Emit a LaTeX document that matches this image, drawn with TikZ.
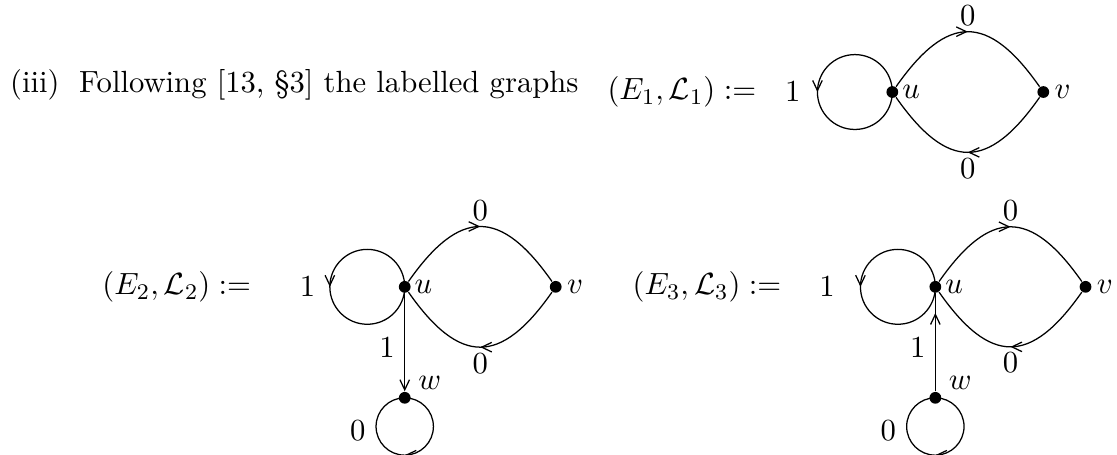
\documentclass[tikz,border=0pt]{standalone}
\usetikzlibrary{positioning, calc, arrows.meta, decorations.markings}

\begin{document}
\begin{tikzpicture}[
    >={Straight Barb[length=3.6pt, width=3.4pt]},
    font=\fontsize{10.95}{13.6}\selectfont,
    line width=0.45pt,
    vertex/.style={circle, fill, inner sep=0pt, minimum size=4.2pt},
    vlabel/.style={inner sep=0pt},
    elabel/.style={inner sep=2pt},
    midarrow/.style={postaction={decorate}, decoration={markings, mark=at position #1 with {\arrow{>}}}}
]

    \useasboundingbox (0,0) rectangle (14.02,-5.71);

    % Text
    \node [anchor=base west, inner sep=0pt] (intro) at (0.12,-1.16) {(iii)\hspace{7pt}Following [13, \S3] the labelled graphs};

    % Graph 1
    \node [anchor=east, inner sep=0pt] (e1) at (9.50,-1.155) {$(E_1,\mathcal{L}_1) :=$};
    \node [vertex] (u1) at (11.20,-1.155) {};
    \node [vertex, right of=u1, node distance=1.895cm] (v1) {};
    \node [vlabel, right=1pt of u1] (lu1) {$u$};
    \node [vlabel, right=1.5pt of v1] (lv1) {$v$};
    \node (l1) at (9.95,-1.155) {$1$};

    \draw [midarrow=0.5] (u1.center) arc [start angle=0, end angle=360, radius=0.47];
    \draw [midarrow=0.5] (u1) to [bend left=55, looseness=1.6] node [above, elabel] (a1) {$0$} (v1);
    \draw [midarrow=0.5] (v1) to [bend left=55, looseness=1.6] node [below, elabel] (b1) {$0$} (u1);

    % Graph 2
    \node [anchor=east, inner sep=0pt] (e2) at (3.16,-3.60) {$(E_2,\mathcal{L}_2) :=$};
    \node [vertex] (u2) at (5.08,-3.60) {};
    \node [vertex, right of=u2, node distance=1.895cm] (v2) {};
    \node [vertex, below of=u2, node distance=1.393cm] (w2) {};
    \node [vlabel, right=1pt of u2] (lu2) {$u$};
    \node [vlabel, right=1.5pt of v2] (lv2) {$v$};
    \node [vlabel, above right=1pt and 3pt of w2] (lw2) {$w$};
    \node (l2) at (3.86,-3.60) {$1$};
    \node (m2) at (4.49,-5.40) {$0$};

    \draw [midarrow=0.5] (u2.center) arc [start angle=0, end angle=360, radius=0.47];
    \draw [midarrow=0.5] (u2) to [bend left=55, looseness=1.6] node [above, elabel] (a2) {$0$} (v2);
    \draw [midarrow=0.5] (v2) to [bend left=55, looseness=1.6] node [below, elabel] (b2) {$0$} (u2);
    \draw [->] (u2) -- node [left, pos=0.55] (c2) {$1$} (w2);
    \draw [midarrow=0.5] (w2.center) arc [start angle=90, end angle=-270, radius=0.36];

    % Graph 3
    \node [anchor=east, inner sep=0pt] (e3) at (9.815,-3.60) {$(E_3,\mathcal{L}_3) :=$};
    \node [vertex] (u3) at (11.74,-3.60) {};
    \node [vertex, right of=u3, node distance=1.885cm] (v3) {};
    \node [vertex, below of=u3, node distance=1.393cm] (w3) {};
    \node [vlabel, right=1pt of u3] (lu3) {$u$};
    \node [vlabel, right=1.5pt of v3] (lv3) {$v$};
    \node [vlabel, above right=1pt and 3pt of w3] (lw3) {$w$};
    \node (l3) at (10.38,-3.60) {$1$};
    \node (m3) at (11.15,-5.40) {$0$};

    \draw [midarrow=0.5] (u3.center) arc [start angle=0, end angle=360, radius=0.47];
    \draw [midarrow=0.5] (u3) to [bend left=55, looseness=1.6] node [above, elabel] (a3) {$0$} (v3);
    \draw [midarrow=0.5] (v3) to [bend left=55, looseness=1.6] node [below, elabel] (b3) {$0$} (u3);
    \draw [midarrow=0.8] (w3) -- node [left, pos=0.45] (c3) {$1$} (u3);
    \draw [midarrow=0.5] (w3.center) arc [start angle=90, end angle=-270, radius=0.36];

\end{tikzpicture}
\end{document}
